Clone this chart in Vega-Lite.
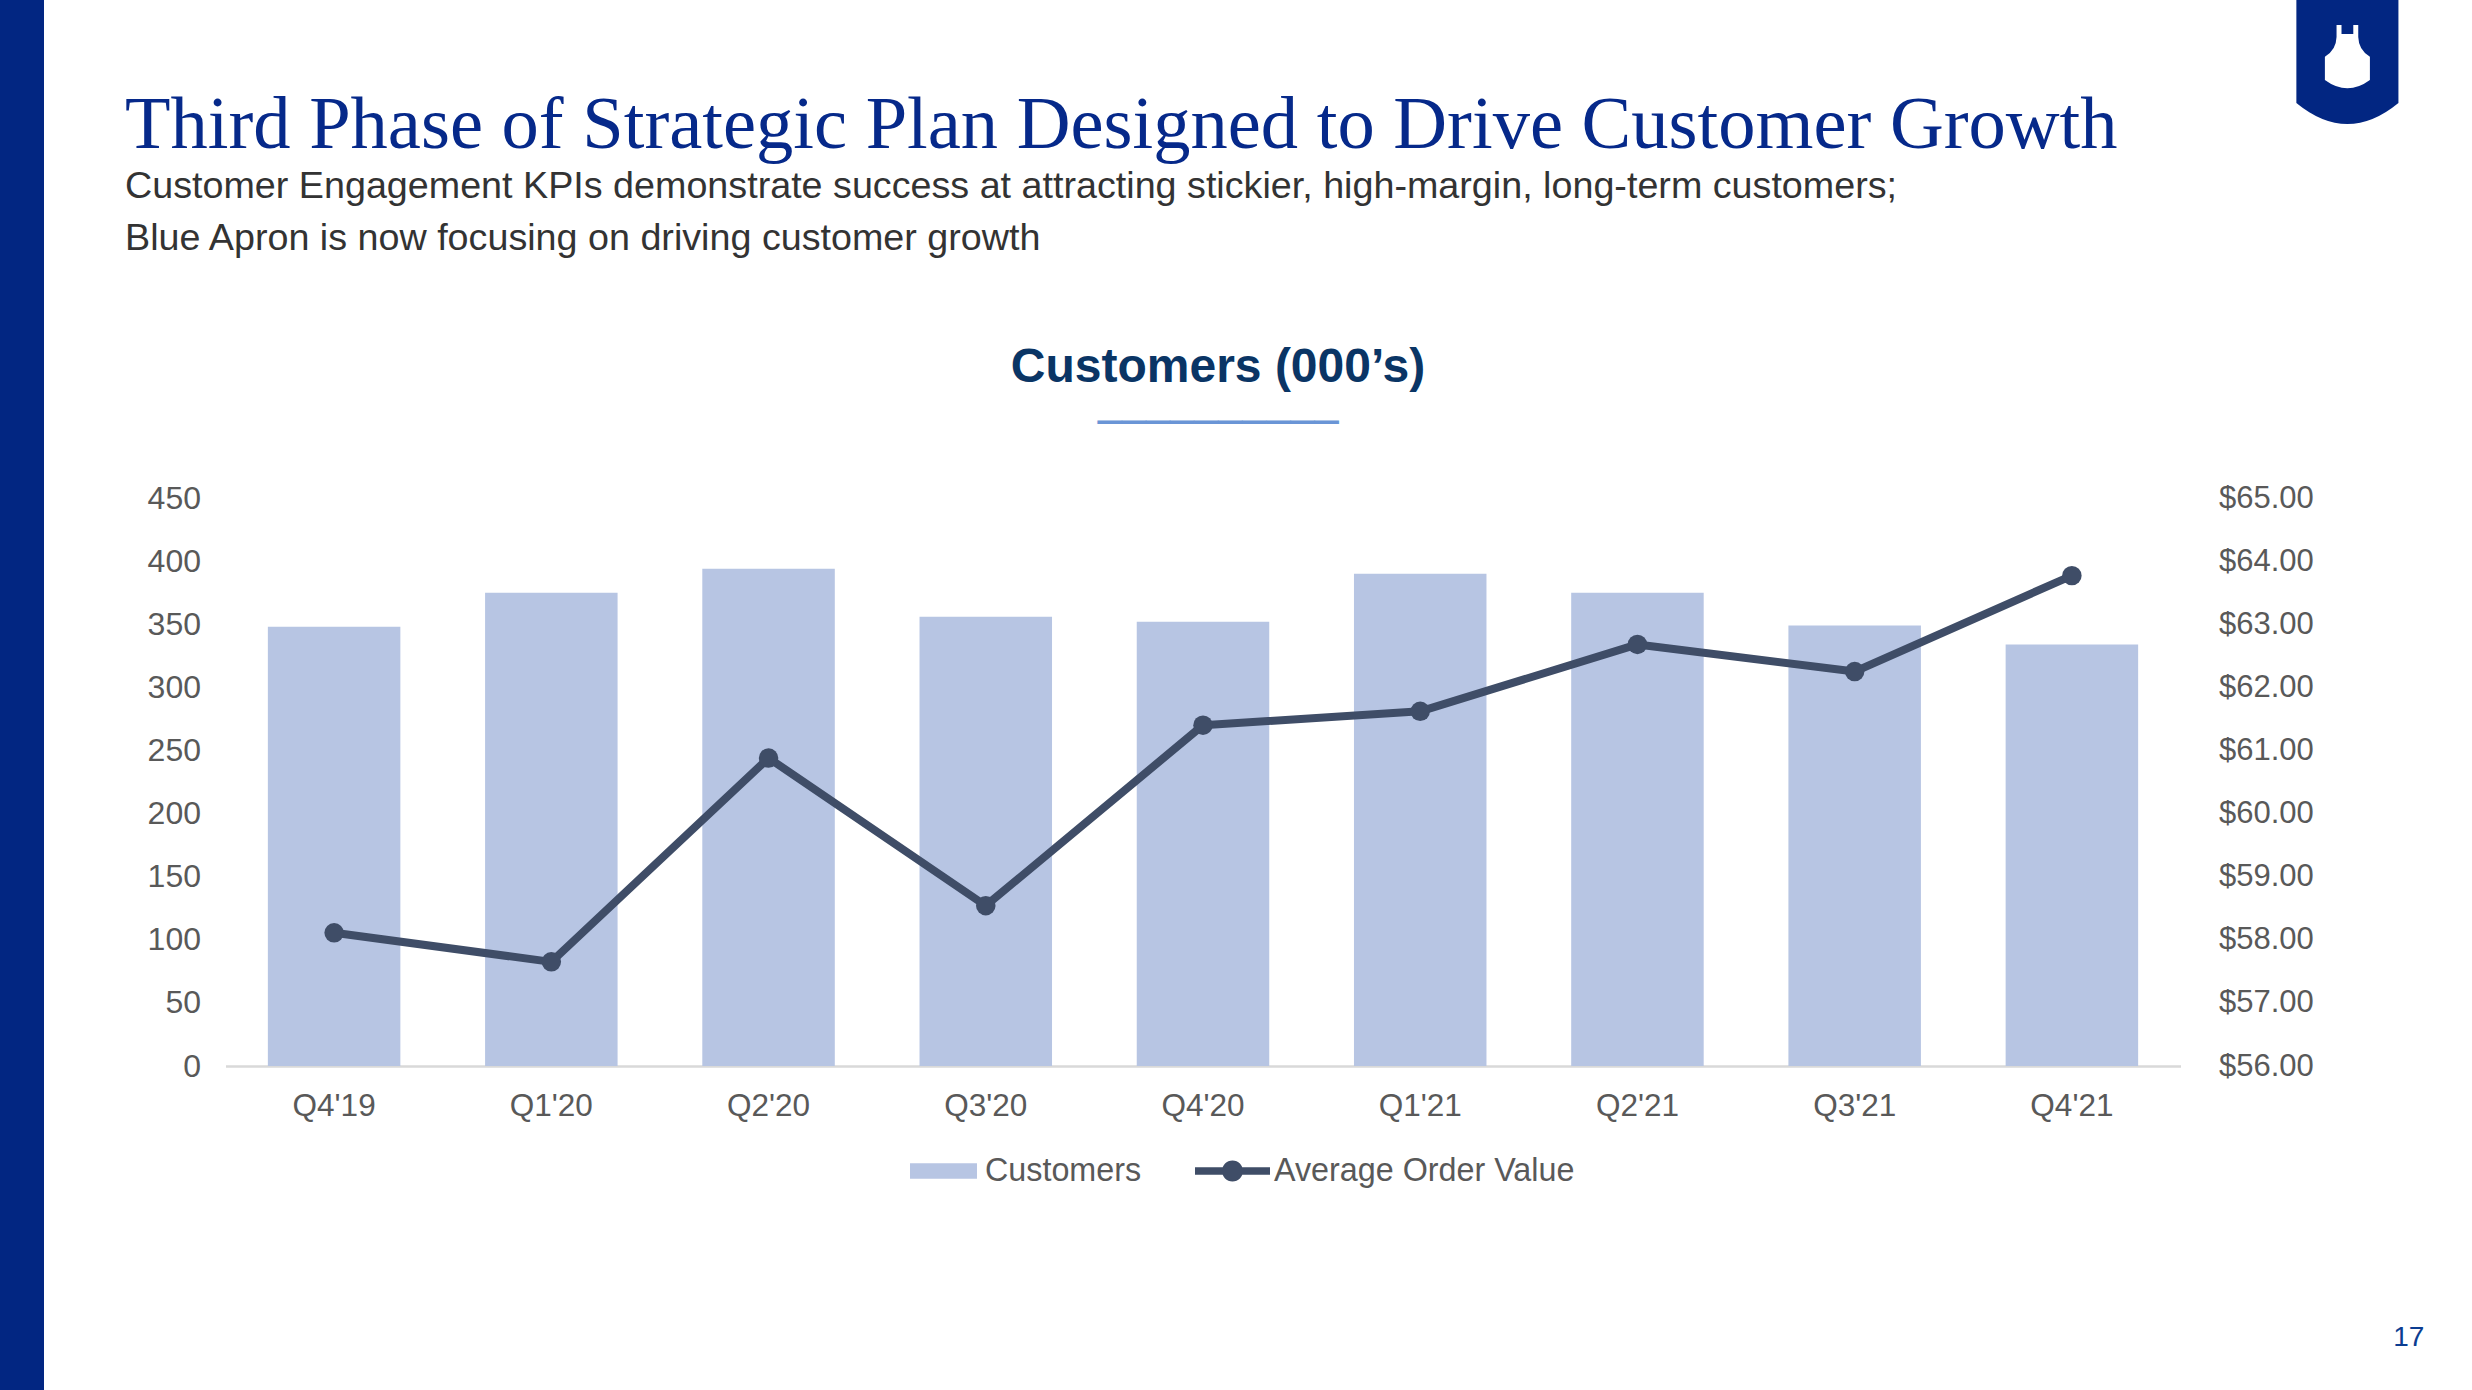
{
  "$schema": "https://vega.github.io/schema/vega-lite/v6.json",
  "padding": 0,
  "background": "white",
  "config": {
    "view": {"stroke": null},
    "font": "Liberation Sans",
    "axis": {"labelFont": "Liberation Sans", "grid": false},
    "legend": {"labelFont": "Liberation Sans"}
  },
  "spacing": 80.5,
  "hconcat": [
    {
      "width": 44,
      "height": 1390,
      "data": {"values": [{"k": 1}]},
      "mark": {"type": "rect", "color": "#022682"},
      "encoding": {},
      "view": {"fill": "#022682", "stroke": null}
    },
    {
      "spacing": 2070.9,
      "bounds": "flush",
      "hconcat": [
        {
          "spacing": 86,
          "vconcat": [
            {
              "width": 1955,
              "height": 1,
              "data": {"values": [{"k": 1}]},
              "mark": {"type": "rect", "opacity": 0},
              "encoding": {},
              "title": {
                "text": "Third Phase of Strategic Plan Designed to Drive Customer Growth",
                "subtitle": [
                  "Customer Engagement KPIs demonstrate success at attracting stickier, high-margin, long-term customers;",
                  "Blue Apron is now focusing on driving customer growth"
                ],
                "orient": "bottom",
                "anchor": "start",
                "frame": "group",
                "baseline": "top",
                "dx": -100.5,
                "offset": 88,
                "font": "Liberation Serif",
                "fontSize": 74.5,
                "fontWeight": "normal",
                "color": "#06298a",
                "subtitleFont": "Liberation Sans",
                "subtitleFontSize": 37.7,
                "subtitleColor": "#333333",
                "subtitleLineHeight": 52,
                "subtitlePadding": 4
              }
            },
            {
              "width": 1955,
              "height": 568,
              "data": {
                "values": [
                  {"quarter": "Q4'19", "customers": 348, "aov": 58.11},
                  {"quarter": "Q1'20", "customers": 375, "aov": 57.65},
                  {"quarter": "Q2'20", "customers": 394, "aov": 60.88},
                  {"quarter": "Q3'20", "customers": 356, "aov": 58.54},
                  {"quarter": "Q4'20", "customers": 352, "aov": 61.40},
                  {"quarter": "Q1'21", "customers": 390, "aov": 61.62},
                  {"quarter": "Q2'21", "customers": 375, "aov": 62.68},
                  {"quarter": "Q3'21", "customers": 349, "aov": 62.25},
                  {"quarter": "Q4'21", "customers": 334, "aov": 63.77}
                ]
              },
              "title": {
                "text": "Customers (000’s)",
                "subtitle": "──────────",
                "anchor": "middle",
                "frame": "group",
                "dx": 15,
                "font": "Liberation Sans",
                "fontSize": 48,
                "fontWeight": "bold",
                "color": "#0a3565",
                "subtitleFont": "DejaVu Sans Mono",
                "subtitleFontSize": 40,
                "subtitleColor": "#6a95d6",
                "subtitlePadding": 11.6,
                "offset": 38
              },
              "encoding": {
                "x": {
                  "field": "quarter",
                  "type": "nominal",
                  "sort": null,
                  "scale": {"paddingInner": 0.39, "paddingOuter": 0.195},
                  "axis": {
                    "title": null,
                    "labelAngle": 0,
                    "labelFontSize": 31.5,
                    "labelColor": "#595959",
                    "labelPadding": 24,
                    "ticks": false,
                    "tickSize": 0,
                    "domainColor": "#d9d9d9",
                    "domainWidth": 2.5
                  }
                }
              },
              "layer": [
                {
                  "mark": {"type": "bar", "opacity": 1},
                  "encoding": {
                    "y": {
                      "field": "customers",
                      "type": "quantitative",
                      "scale": {"domain": [0, 450], "nice": false},
                      "axis": {
                        "title": null,
                        "orient": "left",
                        "values": [0, 50, 100, 150, 200, 250, 300, 350, 400, 450],
                        "labelFontSize": 32,
                        "labelColor": "#595959",
                        "labelPadding": 25,
                        "ticks": false,
                        "tickSize": 0,
                        "domain": false,
                        "grid": false
                      }
                    },
                    "color": {
                      "datum": "Customers",
                      "type": "nominal",
                      "scale": {
                        "domain": ["Customers", "Average Order Value"],
                        "range": ["#b7c5e3", "#3f4d67"]
                      },
                      "legend": {
                        "title": null,
                        "orient": "none",
                        "legendX": 906,
                        "legendY": 1133.5,
                        "direction": "horizontal",
                        "labelFontSize": 32.3,
                        "labelColor": "#595959",
                        "labelLimit": 0,
                        "symbolSize": 5625,
                        "labelOffset": 4,
                        "columnPadding": 53,
                        "padding": 0,
                        "symbolStrokeWidth": 0,
                        "encode": {
                          "symbols": {
                            "update": {
                              "shape": {"signal": "datum.value === 'Customers' ? 'M-0.893,-0.207H0.893V0.207H-0.893Z' : 'M-1,-0.1H1V0.1H-1Z M-0.28,0A0.28,0.28 0 1,1 0.28,0A0.28,0.28 0 1,1 -0.28,0Z'"},
                              "fill": {"signal": "datum.value === 'Customers' ? '#b7c5e3' : '#3f4d67'"},
                              "stroke": {"value": "transparent"},
                              "strokeWidth": {"value": 0},
                              "opacity": {"value": 1}
                            }
                          }
                        }
                      }
                    }
                  }
                },
                {
                  "mark": {
                    "type": "line",
                    "strokeWidth": 8,
                    "strokeJoin": "round",
                    "strokeCap": "round",
                    "point": {"filled": true, "size": 380, "opacity": 1}
                  },
                  "encoding": {
                    "y": {
                      "field": "aov",
                      "type": "quantitative",
                      "scale": {"domain": [56, 65], "nice": false, "zero": false},
                      "axis": {
                        "title": null,
                        "orient": "right",
                        "values": [56, 57, 58, 59, 60, 61, 62, 63, 64, 65],
                        "format": "$.2f",
                        "labelFontSize": 31,
                        "labelColor": "#595959",
                        "labelPadding": 38,
                        "ticks": false,
                        "tickSize": 0,
                        "domain": false,
                        "grid": false
                      }
                    },
                    "color": {
                      "datum": "Average Order Value",
                      "type": "nominal",
                      "legend": {
                        "title": null,
                        "orient": "none",
                        "legendX": 906,
                        "legendY": 1133.5,
                        "direction": "horizontal",
                        "labelFontSize": 32.3,
                        "labelColor": "#595959",
                        "labelLimit": 0,
                        "symbolSize": 5625,
                        "labelOffset": 4,
                        "columnPadding": 53,
                        "padding": 0,
                        "symbolStrokeWidth": 0,
                        "encode": {
                          "symbols": {
                            "update": {
                              "shape": {"signal": "datum.value === 'Customers' ? 'M-0.893,-0.207H0.893V0.207H-0.893Z' : 'M-1,-0.1H1V0.1H-1Z M-0.28,0A0.28,0.28 0 1,1 0.28,0A0.28,0.28 0 1,1 -0.28,0Z'"},
                              "fill": {"signal": "datum.value === 'Customers' ? '#b7c5e3' : '#3f4d67'"},
                              "stroke": {"value": "transparent"},
                              "strokeWidth": {"value": 0},
                              "opacity": {"value": 1}
                            }
                          }
                        }
                      }
                    }
                  }
                }
              ],
              "resolve": {"scale": {"y": "independent"}}
            }
          ]
        },
        {
          "width": 102,
          "height": 124,
          "data": {"values": [{"k": 1}]},
          "title": {
            "text": "17",
            "orient": "bottom",
            "anchor": "end",
            "frame": "group",
            "baseline": "top",
            "offset": 1200,
            "dx": 26,
            "font": "Liberation Sans",
            "fontSize": 28,
            "fontWeight": "normal",
            "color": "#0b3d91"
          },
          "layer": [
            {
              "mark": {
                "type": "point",
                "shape": "M-0.823,-1H0.823V0.661Q0,1.339 -0.823,0.661Z",
                "size": 15376,
                "filled": true,
                "color": "#022682",
                "opacity": 1,
                "strokeWidth": 0
              },
              "encoding": {}
            },
            {
              "mark": {
                "type": "point",
                "shape": "M-0.175,-0.597L-0.095,-0.597L-0.095,-0.45L0.095,-0.45L0.095,-0.597L0.175,-0.597L0.175,-0.403Q0.18,-0.194 0.363,-0.085L0.363,0.29Q0,0.558 -0.363,0.29L-0.363,-0.085Q-0.18,-0.194 -0.175,-0.403Z",
                "size": 15376,
                "filled": true,
                "color": "#ffffff",
                "opacity": 1,
                "strokeWidth": 0
              },
              "encoding": {}
            }
          ]
        }
      ]
    }
  ]
}
